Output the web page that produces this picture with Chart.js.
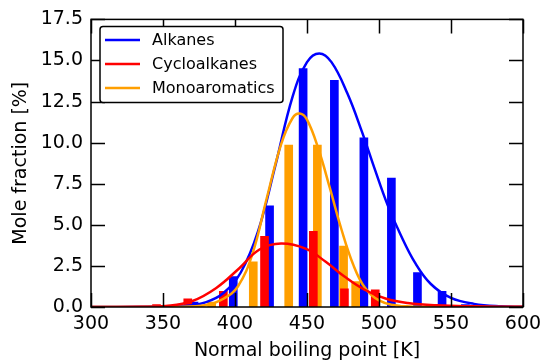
<!DOCTYPE html>
<html>
<head>
<meta charset="utf-8">
<script src="https://cdn.jsdelivr.net/npm/chart.js@4.4.1/dist/chart.umd.min.js"></script>
<style>
  html, body { margin: 0; padding: 0; background: #fff; }
</style>
</head>
<body>
<canvas id="myChart" width="549" height="362"></canvas>
<script>
// histogram bars: boiling point [K] / mole fraction [%]
var alkBp = [371.6, 398.8, 424.0, 447.3, 469.0, 489.5, 508.6, 526.7, 543.8, 560.0];
var alkFrac = [0.3, 1.85, 6.15, 14.5, 13.8, 10.3, 7.85, 2.1, 0.95, 0.15];
var cycloBp = [345.5, 367.2, 391.9, 420.5, 454.4, 476.0, 497.4];
var cycloFrac = [0.15, 0.5, 0.95, 4.3, 4.6, 1.1, 1.05];
var aroBp = [383.8, 412.7, 437.3, 457.2, 475.4, 483.8];
var aroFrac = [0.3, 2.75, 9.85, 9.85, 3.7, 1.55];

// fitted distributions
var alkFitBp = [300, 340, 365, 380, 392, 404, 416, 428, 440, 450, 458.5, 467, 478, 488, 497, 506, 515, 525, 536, 550, 566, 585, 600];
var alkFitFrac = [0, 0.01, 0.06, 0.3, 0.85, 2.1, 4.6, 8.6, 12.8, 14.9, 15.43, 14.9, 13.0, 10.7, 8.4, 6.2, 4.4, 2.7, 1.4, 0.55, 0.19, 0.04, 0.01];
var cycloFitBp = [300, 335, 352, 370, 387, 403, 417, 432, 449, 463, 476, 490, 505, 520, 540, 565, 600];
var cycloFitFrac = [0, 0.01, 0.06, 0.35, 1.16, 2.36, 3.5, 3.86, 3.55, 2.75, 1.85, 1.05, 0.5, 0.24, 0.1, 0.04, 0.01];
var aroFitBp = [300, 360, 380, 392, 402, 412, 422, 432, 440, 445, 450, 458, 466, 474, 482, 490, 500, 515, 540, 600];
var aroFitFrac = [0, 0.01, 0.12, 0.5, 1.25, 3.2, 6.6, 9.9, 11.5, 11.77, 11.4, 9.6, 7.2, 4.7, 2.6, 1.2, 0.4, 0.06, 0, 0];

var xTicks = [300, 350, 400, 450, 500, 550, 600];
var yTicks = [0, 2.5, 5, 7.5, 10, 12.5, 15, 17.5];

var BLUE = '#0000ff', RED = '#ff0000', ORANGE = '#ff9f00';

function pts(xs, ys) {
  return xs.map(function(x, i) { return { x: x, y: ys[i] }; });
}

// inward ticks on all four sides + frame
var frameTicks = {
  id: 'frameTicks',
  afterDatasetsDraw: function(chart) {
    var ctx = chart.ctx, a = chart.chartArea;
    var sx = chart.scales.x, sy = chart.scales.y, len = 14;
    ctx.save();
    ctx.strokeStyle = '#000';
    ctx.lineWidth = 1.5;
    ctx.beginPath();
    xTicks.forEach(function(v) {
      var px = Math.round(sx.getPixelForValue(v)) + 0.5;
      ctx.moveTo(px, a.bottom); ctx.lineTo(px, a.bottom - len);
      ctx.moveTo(px, a.top); ctx.lineTo(px, a.top + len);
    });
    yTicks.forEach(function(v) {
      var py = Math.round(sy.getPixelForValue(v)) + 0.5;
      ctx.moveTo(a.left, py); ctx.lineTo(a.left + len, py);
      ctx.moveTo(a.right, py); ctx.lineTo(a.right - len, py);
    });
    ctx.stroke();
    ctx.strokeRect(a.left, a.top, a.right - a.left, a.bottom - a.top);
    ctx.restore();
  }
};

// matplotlib-like legend box in the upper left
var boxLegend = {
  id: 'boxLegend',
  afterDraw: function(chart) {
    var ctx = chart.ctx, a = chart.chartArea;
    var x0 = a.left + 9, y0 = a.top + 7, w = 183, h = 76;
    ctx.save();
    ctx.fillStyle = '#fff';
    ctx.strokeStyle = '#000';
    ctx.lineWidth = 1.5;
    ctx.beginPath();
    ctx.roundRect(x0, y0, w, h, 3);
    ctx.fill();
    ctx.stroke();
    ctx.font = '16px "DejaVu Sans"';
    ctx.textBaseline = 'middle';
    ctx.fillStyle = '#000';
    var lines = chart.data.datasets.filter(function(d) { return d.type === 'line'; });
    lines.forEach(function(d, i) {
      var yy = y0 + 13.5 + i * 24;
      ctx.strokeStyle = d.borderColor;
      ctx.lineWidth = 2.5;
      ctx.beginPath();
      ctx.moveTo(x0 + 5, yy);
      ctx.lineTo(x0 + 40, yy);
      ctx.stroke();
      ctx.fillText(d.label, x0 + 52, yy + 1);
    });
    ctx.restore();
  }
};

Chart.defaults.font.family = '"DejaVu Sans", sans-serif';
Chart.defaults.color = '#000';

var ctx = document.getElementById('myChart');
var myChart = new Chart(ctx, {
  type: 'bar',
  data: {
    datasets: [
      { type: 'line', label: 'Alkanes', data: pts(alkFitBp, alkFitFrac), borderColor: BLUE, borderWidth: 2.5, pointRadius: 0, tension: 0.4, fill: false, order: 3 },
      { type: 'line', label: 'Cycloalkanes', data: pts(cycloFitBp, cycloFitFrac), borderColor: RED, borderWidth: 2.5, pointRadius: 0, tension: 0.4, fill: false, order: 1 },
      { type: 'line', label: 'Monoaromatics', data: pts(aroFitBp, aroFitFrac), borderColor: ORANGE, borderWidth: 2.5, pointRadius: 0, tension: 0.4, fill: false, order: 2 },
      { type: 'bar', label: 'Alkanes bars', data: pts(alkBp, alkFrac), backgroundColor: BLUE, barThickness: 8, grouped: false, order: 12 },
      { type: 'bar', label: 'Monoaromatics bars', data: pts(aroBp, aroFrac), backgroundColor: ORANGE, barThickness: 8, grouped: false, order: 11 },
      { type: 'bar', label: 'Cycloalkanes bars', data: pts(cycloBp, cycloFrac), backgroundColor: RED, barThickness: 8, grouped: false, order: 10 }
    ]
  },
  options: {
    responsive: false,
    animation: false,
    layout: { padding: { top: 17, right: 26, left: 0, bottom: 0 } },
    plugins: {
      legend: { display: false },
      tooltip: { enabled: false }
    },
    scales: {
      x: {
        type: 'linear',
        min: 300,
        max: 600,
        offset: false,
        grid: { display: false, offset: false, drawTicks: false },
        border: { display: false },
        afterBuildTicks: function(axis) {
          axis.ticks = xTicks.map(function(v) { return { value: v }; });
        },
        afterFit: function(scale) { scale.height = 55; },
        ticks: { font: { size: 19 }, padding: 6, maxRotation: 0, callback: function(v) { return v; } },
        title: { display: true, text: 'Normal boiling point [K]', font: { size: 19 }, padding: { top: 0, bottom: 0 } }
      },
      y: {
        min: 0,
        max: 17.5,
        grid: { display: false, drawTicks: false },
        border: { display: false },
        afterBuildTicks: function(axis) {
          axis.ticks = yTicks.map(function(v) { return { value: v }; });
        },
        afterFit: function(scale) { scale.width = 91; },
        ticks: { font: { size: 19 }, padding: 8, callback: function(v) { return v.toFixed(1); } },
        title: { display: true, text: 'Mole fraction [%]', font: { size: 19 }, padding: { top: 10, bottom: 0 } }
      }
    }
  },
  plugins: [frameTicks, boxLegend]
});
</script>
</body>
</html>
